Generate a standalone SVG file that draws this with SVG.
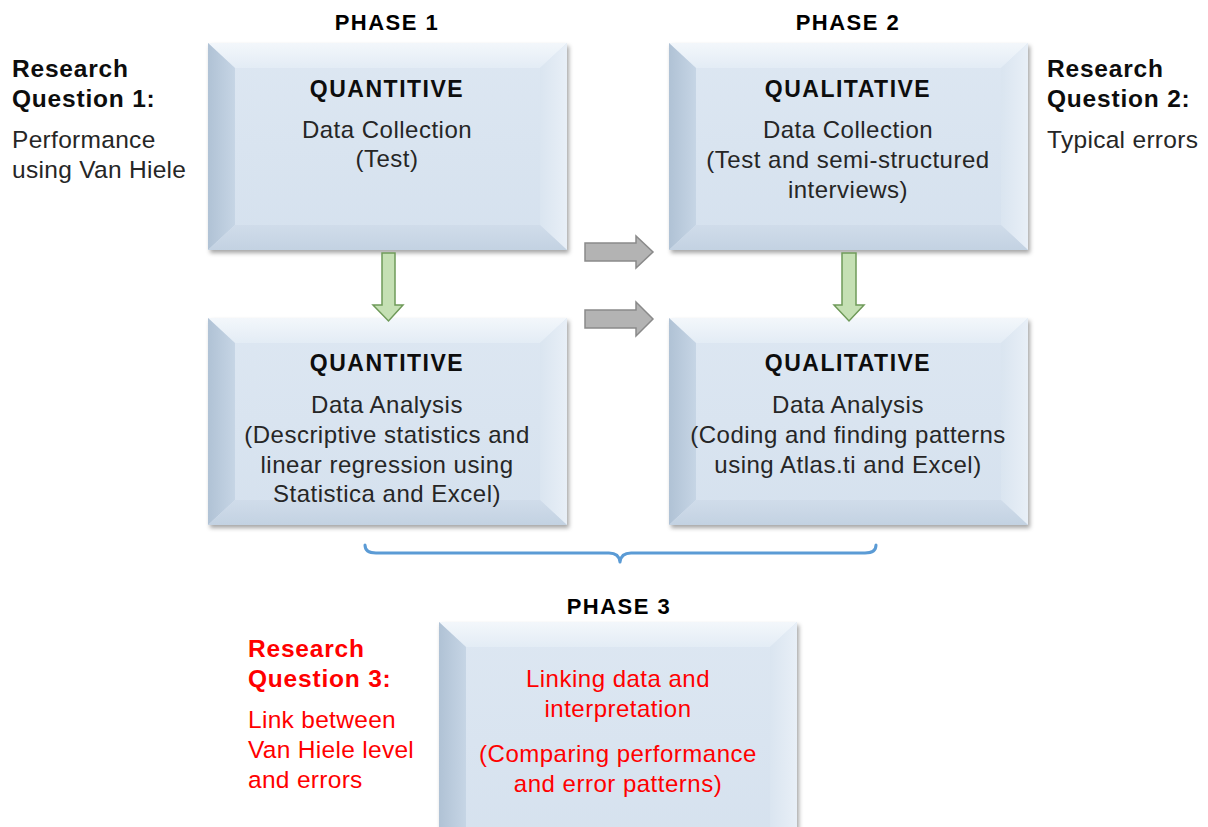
<svg xmlns="http://www.w3.org/2000/svg" width="1208" height="827" viewBox="0 0 1208 827">
<style>
text{font-family:"Liberation Sans",Arial,sans-serif}
.ph{font-size:22px;font-weight:bold;fill:#000;text-anchor:middle;letter-spacing:1.5px}
.hd{font-size:23px;font-weight:bold;fill:#0d0d0d;text-anchor:middle;letter-spacing:1.5px}
.bt{font-size:24px;fill:#262626;text-anchor:middle;letter-spacing:0.5px}
.rq{font-size:24.5px;font-weight:bold;fill:#0d0d0d;letter-spacing:0.8px}
.rt{font-size:24.5px;fill:#262626;letter-spacing:0.3px}
.red{fill:#ff0000}
.face{fill:url(#gFace)}
.btop{fill:url(#gTop)}
.bleft{fill:url(#gLeft)}
.bright{fill:url(#gRight)}
.bbot{fill:url(#gBot)}
.garr{fill:#b3b3b3;stroke:#8a8a8a;stroke-width:1.5}
.varr{fill:#c5e0b4;stroke:#6f9a59;stroke-width:1.5}
.brace{fill:none;stroke:#5b9bd5;stroke-width:3;stroke-linecap:round;stroke-linejoin:round}
</style>
<defs>
<linearGradient id="gFace" x1="0" y1="0" x2="0" y2="1"><stop offset="0" stop-color="#dde7f2"/><stop offset="1" stop-color="#d5e1ee"/></linearGradient>
<linearGradient id="gTop" x1="0" y1="0" x2="0" y2="1"><stop offset="0" stop-color="#f3f7fb"/><stop offset="1" stop-color="#e3ecf5"/></linearGradient>
<linearGradient id="gLeft" x1="0" y1="0" x2="1" y2="0"><stop offset="0" stop-color="#b0c2d5"/><stop offset="1" stop-color="#c6d5e5"/></linearGradient>
<linearGradient id="gRight" x1="0" y1="0" x2="1" y2="0"><stop offset="0" stop-color="#dae5f0"/><stop offset="1" stop-color="#e8eff7"/></linearGradient>
<linearGradient id="gBot" x1="0" y1="0" x2="0" y2="1"><stop offset="0" stop-color="#d0dcea"/><stop offset="1" stop-color="#c3d2e2"/></linearGradient>
<filter id="sh" x="-5%" y="-5%" width="112%" height="115%">
<feDropShadow dx="2" dy="3" stdDeviation="2" flood-color="#000" flood-opacity="0.35"/>
</filter>
<g id="bev">
<rect x="0" y="0" width="359" height="207" class="face"/>
<polygon points="0,0 359,0 332,25 27,25" class="btop"/>
<polygon points="0,0 27,25 27,182 0,207" class="bleft"/>
<polygon points="359,0 359,207 332,182 332,25" class="bright"/>
<polygon points="0,207 27,182 332,182 359,207" class="bbot"/>
</g>
</defs>

<g id="labels">
<text class="ph" x="387" y="30">PHASE 1</text>
<text class="ph" x="848" y="30">PHASE 2</text>
<text class="ph" x="619" y="614">PHASE 3</text>
</g>

<g id="rq1">
<text class="rq" x="12" y="77">Research</text>
<text class="rq" x="12" y="107">Question 1:</text>
<text class="rt" x="12" y="148">Performance</text>
<text class="rt" x="12" y="178">using Van Hiele</text>
</g>
<g id="rq2">
<text class="rq" x="1047" y="77">Research</text>
<text class="rq" x="1047" y="107">Question 2:</text>
<text class="rt" x="1047" y="148">Typical errors</text>
</g>
<g id="rq3">
<text class="rq red" x="248" y="657">Research</text>
<text class="rq red" x="248" y="687">Question 3:</text>
<text class="rt red" x="248" y="728">Link between</text>
<text class="rt red" x="248" y="758">Van Hiele level</text>
<text class="rt red" x="248" y="788">and errors</text>
</g>

<g id="box1">
<use href="#bev" x="208" y="43" filter="url(#sh)"/>
<text class="hd" x="387" y="97">QUANTITIVE</text>
<text class="bt" x="387" y="138">Data Collection</text>
<text class="bt" x="387" y="167">(Test)</text>
</g>
<g id="box2">
<use href="#bev" x="669" y="43" filter="url(#sh)"/>
<text class="hd" x="848" y="97">QUALITATIVE</text>
<text class="bt" x="848" y="138">Data Collection</text>
<text class="bt" x="848" y="168">(Test and semi-structured</text>
<text class="bt" x="848" y="198">interviews)</text>
</g>
<g id="box3">
<use href="#bev" x="208" y="318" filter="url(#sh)"/>
<text class="hd" x="387" y="371">QUANTITIVE</text>
<text class="bt" x="387" y="413">Data Analysis</text>
<text class="bt" x="387" y="443">(Descriptive statistics and</text>
<text class="bt" x="387" y="473">linear regression using</text>
<text class="bt" x="387" y="502">Statistica and Excel)</text>
</g>
<g id="box4">
<use href="#bev" x="669" y="318" filter="url(#sh)"/>
<text class="hd" x="848" y="371">QUALITATIVE</text>
<text class="bt" x="848" y="413">Data Analysis</text>
<text class="bt" x="848" y="443">(Coding and finding patterns</text>
<text class="bt" x="848" y="473">using Atlas.ti and Excel)</text>
</g>
<g id="box5">
<g filter="url(#sh)">
<rect x="439" y="622" width="358" height="240" class="face"/>
<polygon points="439,622 797,622 770,647 466,647" class="btop"/>
<polygon points="439,622 466,647 466,862 439,862" class="bleft"/>
<polygon points="797,622 797,862 770,862 770,647" class="bright"/>
</g>
<text class="bt red" x="618" y="687">Linking data and</text>
<text class="bt red" x="618" y="717">interpretation</text>
<text class="bt red" x="618" y="762">(Comparing performance</text>
<text class="bt red" x="618" y="792">and error patterns)</text>
</g>

<g id="connectors">
<polygon class="varr" points="382,253 395,253 395,305 403,305 388.5,321 373,305 382,305"/>
<polygon class="varr" points="842,253 856,253 856,305 864,305 849,321 834,305 842,305"/>
<polygon class="garr" points="585,243 636,243 636,236 653,252 636,268 636,261 585,261"/>
<polygon class="garr" points="585,310 636,310 636,302 653,319 636,336 636,328 585,328"/>
<path class="brace" d="M365,545 Q365,553 376,553 L609,553 Q619,553 620,562 Q621,553 631,553 L865,553 Q876,553 876,545"/>
</g>
</svg>
